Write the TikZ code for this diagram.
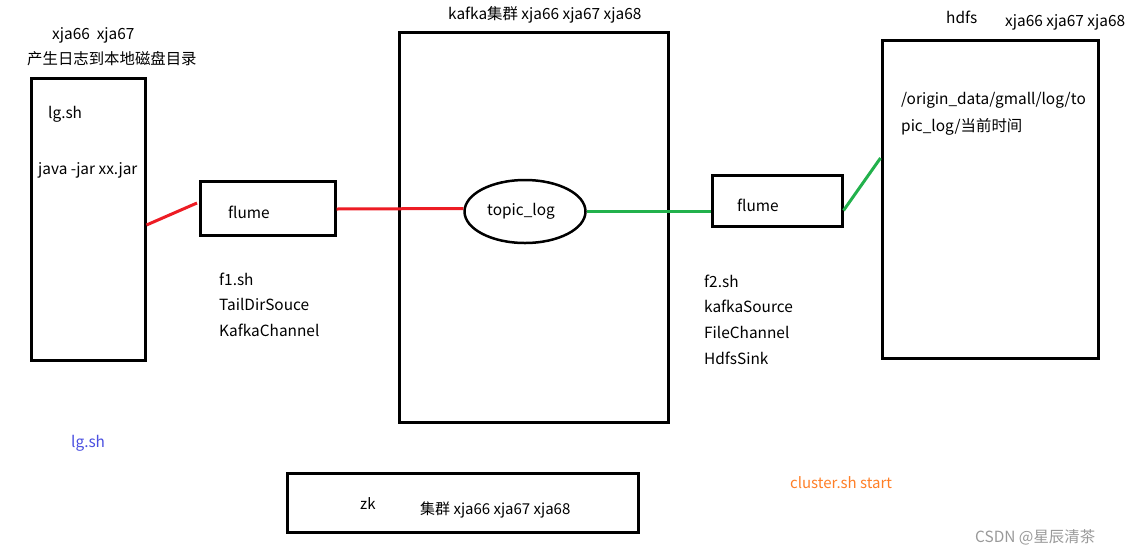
\documentclass[tikz,border=0pt]{standalone}
\usepackage{fontspec}
\setmainfont{Noto Sans CJK SC}
\usetikzlibrary{shapes.geometric}

\definecolor{linkred}{HTML}{ED1C24}
\definecolor{linkgreen}{HTML}{22B14C}
\definecolor{noteblue}{HTML}{4A4FE0}
\definecolor{noteorange}{HTML}{FF7F27}

\begin{document}
\begin{tikzpicture}[x=1pt, y=-1pt,
        every node/.style={font=\fontsize{15.4}{18}\selectfont},
        hostbox/.style={draw, line width=3pt, minimum width=#1, inner sep=0pt},
        txt/.style={anchor=west, inner sep=0pt},
        redlink/.style={draw=linkred, line width=3pt},
        greenlink/.style={draw=linkgreen, line width=3pt}]

        \useasboundingbox (0, 0) rectangle (1139, 555);

        \node (logbox) at (88, 219) [hostbox=114pt, minimum height=282pt] {};
        \node (flume1) at (267.5, 208) [hostbox=135pt, minimum height=54pt] {};
        \node (kafka) at (533.5, 227) [hostbox=269pt, minimum height=390pt] {};
        \node (topic) at (525, 211.5) [ellipse, draw, line width=2.5pt, minimum width=121pt, minimum height=63pt, inner sep=0pt] {\hspace*{-8pt}topic\_log};
        \node (flume2) at (777, 200.5) [hostbox=130pt, minimum height=51pt] {};
        \node (hdfs) at (990, 199) [hostbox=216pt, minimum height=318pt] {};
        \node (zk) at (462.5, 502.5) [hostbox=351pt, minimum height=59pt] {};

        \node (loghost) at (52, 35) [txt] {xja66\ \ xja67};
        \node (logdesc) at (27, 59) [txt] {产生日志到本地磁盘目录};
        \node (lgsh) at (48, 114) [txt] {lg.sh};
        \node (javajar) at (38, 170) [txt] {java -jar xx.jar};

        \node (flume1txt) at (228, 212) [txt] {flume};
        \node (f1sh) at (219, 279) [txt] {f1.sh};
        \node (f1src) at (219, 304) [txt] {TailDirSouce};
        \node (f1chan) at (219, 330) [txt] {KafkaChannel};

        \node (kafkatitle) at (448, 15) [txt] {kafka集群 xja66 xja67 xja68};

        \node (flume2txt) at (737, 205) [txt] {flume};
        \node (f2sh) at (704, 281) [txt] {f2.sh};
        \node (f2src) at (704, 306) [txt] {kafkaSource};
        \node (f2chan) at (704, 332) [txt] {FileChannel};
        \node (f2sink) at (704, 358) [txt] {HdfsSink};

        \node (hdfstitle) at (946, 17) [txt] {hdfs};
        \node (hdfshost) at (1005, 22) [txt] {xja66 xja67 xja68};
        \node (hdfspath1) at (901, 100) [txt] {/origin\_data/gmall/log/to};
        \node (hdfspath2) at (901, 127) [txt] {pic\_log/当前时间};

        \node (lgnote) at (71, 443) [txt, text=noteblue] {lg.sh};
        \node (zktxt) at (360, 504) [txt, font=\fontsize{15}{18}\selectfont] {zk};
        \node (zkhost) at (420, 510) [txt, font=\fontsize{15}{18}\selectfont] {集群 xja66 xja67 xja68};
        \node (zknote) at (790, 483) [txt, text=noteorange, font=\fontsize{15}{18}\selectfont] {cluster.sh start};
        \node (mark) at (975, 537) [txt, text=black!40] {CSDN @星辰清茶};

        \coordinate (redend) at (197, 203);

        \draw[redlink] ([yshift=-6pt]logbox.east) -- (redend);
        \draw[redlink] ([yshift=-1pt]flume1.east) -- ([yshift=3pt]topic.west);

        \draw[greenlink] (topic.east) -- (topic.east -| flume2.west);
        \draw[greenlink] ([yshift=-10pt]flume2.east) -- ([yshift=41pt]hdfs.west);

    \end{tikzpicture}
\end{document}
